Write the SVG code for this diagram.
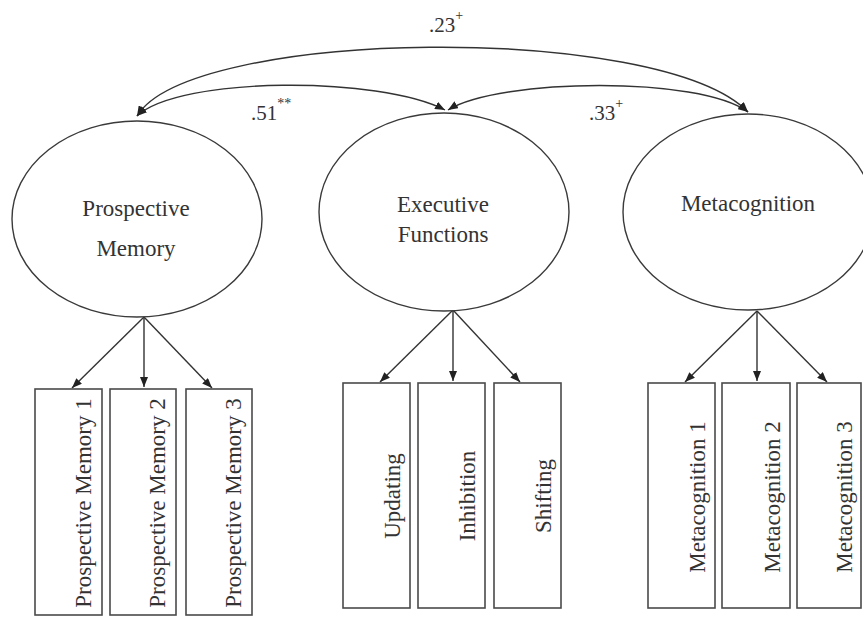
<svg xmlns="http://www.w3.org/2000/svg" width="863" height="617" viewBox="0 0 863 617">
  <style>
    .lat { fill: #ffffff; stroke: #3a3a3a; stroke-width: 1.4; }
    .obs { fill: #ffffff; stroke: #4a4a4a; stroke-width: 1.6; }
    .t { font-family: "Liberation Serif", "Times New Roman", serif; font-size: 23px; fill: #333333; text-anchor: middle; }
    .lbl { font-family: "Liberation Serif", "Times New Roman", serif; font-size: 21px; fill: #333333; }
    .sup { font-size: 14px; }
    .con { fill: none; stroke: #333333; stroke-width: 1.4; }
  </style>
  <defs>
    <marker id="ah" viewBox="0 0 10 8" refX="10" refY="4" markerWidth="10" markerHeight="8" markerUnits="userSpaceOnUse" orient="auto-start-reverse">
      <path d="M0,0 L10,4 L0,8 z" fill="#222222"/>
    </marker>
  </defs>

  <rect x="0" y="0" width="863" height="617" fill="#ffffff"/>

  <g id="connectors">
    <path class="con" d="M137,116 C190,28 660,22 748,112" marker-start="url(#ah)" marker-end="url(#ah)"/>
    <path class="con" d="M137,116 C180,76 380,76 445,110" marker-start="url(#ah)" marker-end="url(#ah)"/>
    <path class="con" d="M448,110 C500,78 700,76 748,112" marker-start="url(#ah)" marker-end="url(#ah)"/>

    <line class="con" x1="144" y1="317" x2="72" y2="388" marker-end="url(#ah)"/>
    <line class="con" x1="144" y1="317" x2="144" y2="387" marker-end="url(#ah)"/>
    <line class="con" x1="144" y1="317" x2="212" y2="388" marker-end="url(#ah)"/>

    <line class="con" x1="453" y1="310" x2="380" y2="382" marker-end="url(#ah)"/>
    <line class="con" x1="453" y1="310" x2="453" y2="381" marker-end="url(#ah)"/>
    <line class="con" x1="453" y1="310" x2="520" y2="382" marker-end="url(#ah)"/>

    <line class="con" x1="757" y1="311" x2="685" y2="382" marker-end="url(#ah)"/>
    <line class="con" x1="757" y1="311" x2="757" y2="381" marker-end="url(#ah)"/>
    <line class="con" x1="757" y1="311" x2="827" y2="382" marker-end="url(#ah)"/>
  </g>

  <g id="labels">
    <text class="lbl" x="429" y="32">.23<tspan class="sup" dy="-12">+</tspan></text>
    <text class="lbl" x="251" y="120">.51<tspan class="sup" dy="-12">**</tspan></text>
    <text class="lbl" x="589" y="120">.33<tspan class="sup" dy="-12">+</tspan></text>
  </g>

  <g id="prospective-memory">
    <ellipse class="lat" cx="137" cy="219" rx="125" ry="98"/>
    <text class="t" x="136" y="216">Prospective</text>
    <text class="t" x="136" y="256">Memory</text>
  </g>
  <g id="executive-functions">
    <ellipse class="lat" cx="444" cy="212" rx="125" ry="99"/>
    <text class="t" x="443" y="212">Executive</text>
    <text class="t" x="443" y="242">Functions</text>
  </g>
  <g id="metacognition">
    <ellipse class="lat" cx="748" cy="212" rx="125" ry="98"/>
    <text class="t" x="748" y="211">Metacognition</text>
  </g>

  <g id="pm1">
    <rect class="obs" x="35" y="389" width="67" height="226"/>
    <text class="t" transform="translate(91,503) rotate(-90)">Prospective Memory 1</text>
  </g>
  <g id="pm2">
    <rect class="obs" x="110" y="389" width="66" height="226"/>
    <text class="t" transform="translate(165,503) rotate(-90)">Prospective Memory 2</text>
  </g>
  <g id="pm3">
    <rect class="obs" x="186" y="389" width="66" height="226"/>
    <text class="t" transform="translate(241,503) rotate(-90)">Prospective Memory 3</text>
  </g>

  <g id="updating">
    <rect class="obs" x="343" y="383" width="67" height="225"/>
    <text class="t" transform="translate(400,496) rotate(-90)">Updating</text>
  </g>
  <g id="inhibition">
    <rect class="obs" x="418" y="383" width="67" height="225"/>
    <text class="t" transform="translate(475,496) rotate(-90)">Inhibition</text>
  </g>
  <g id="shifting">
    <rect class="obs" x="494" y="383" width="67" height="225"/>
    <text class="t" transform="translate(551,496) rotate(-90)">Shifting</text>
  </g>

  <g id="mc1">
    <rect class="obs" x="648" y="383" width="67" height="225"/>
    <text class="t" transform="translate(705,497) rotate(-90)">Metacognition 1</text>
  </g>
  <g id="mc2">
    <rect class="obs" x="722" y="383" width="68" height="225"/>
    <text class="t" transform="translate(780,497) rotate(-90)">Metacognition 2</text>
  </g>
  <g id="mc3">
    <rect class="obs" x="797" y="383" width="64" height="225"/>
    <text class="t" transform="translate(852,497) rotate(-90)">Metacognition 3</text>
  </g>
</svg>
